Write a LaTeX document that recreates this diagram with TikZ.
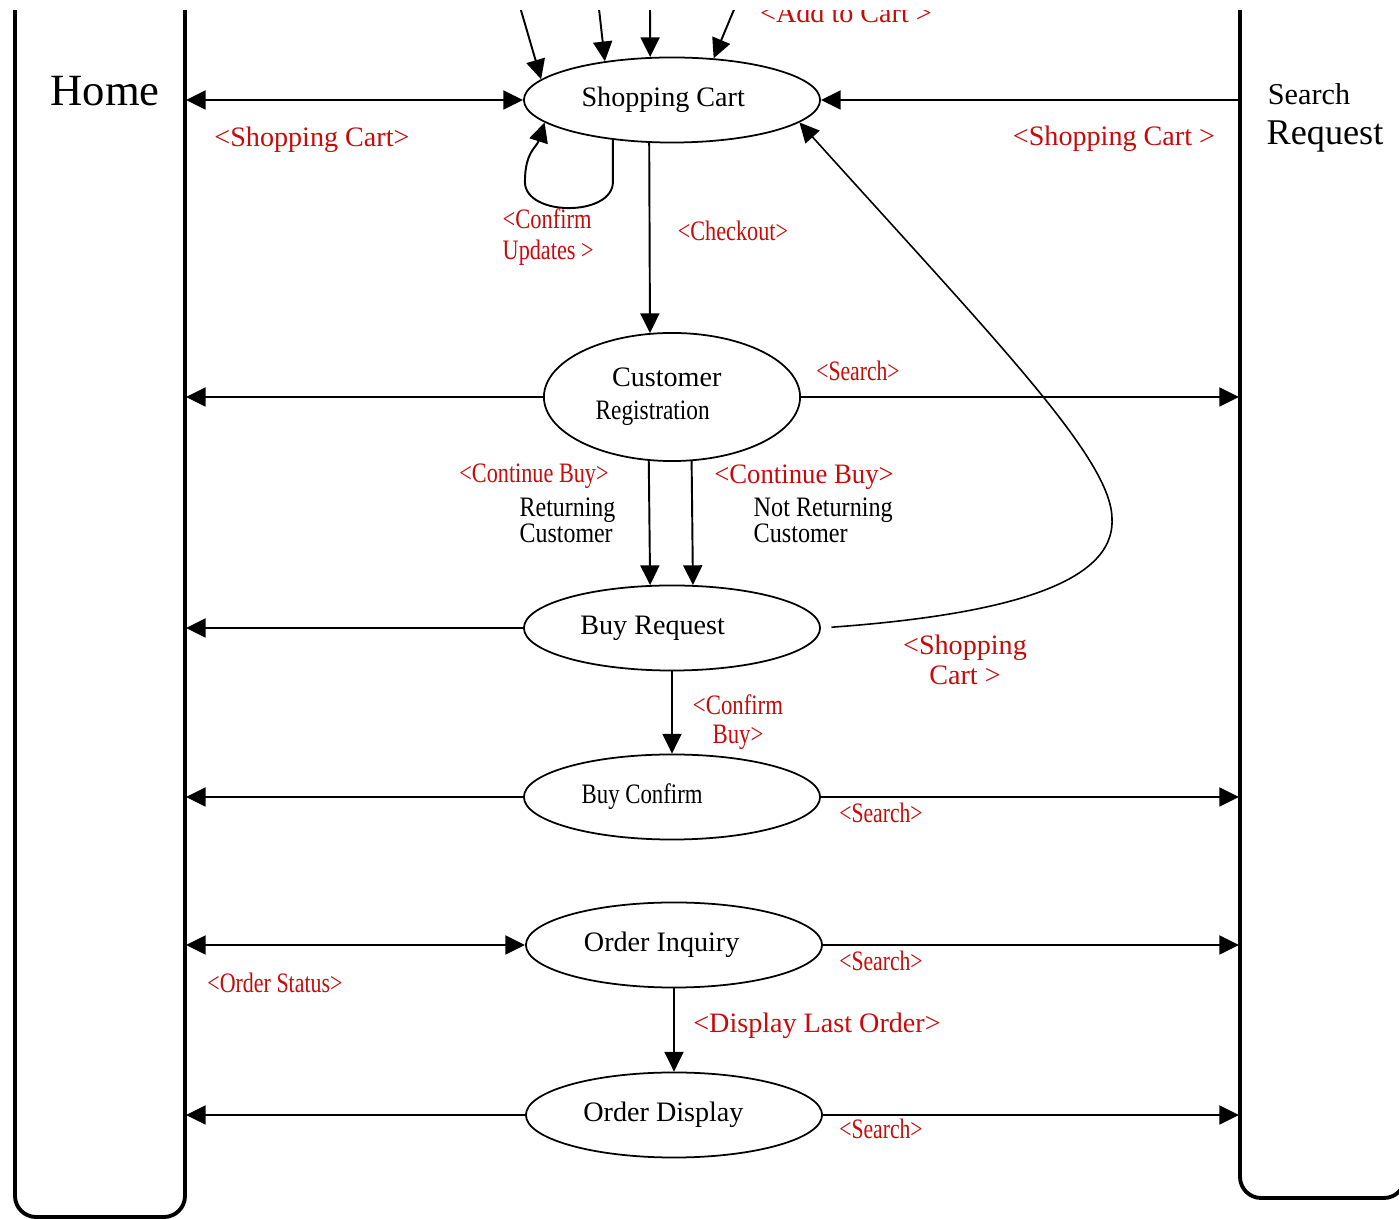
\documentclass[tikz,border=0pt]{standalone}
\usepackage{fontspec}
\setmainfont{Liberation Serif}
\usepackage{graphicx}
\usetikzlibrary{arrows.meta,shapes.geometric,calc}
\definecolor{lblred}{RGB}{200,10,10}
\newcommand{\cnd}[2][0.8]{\scalebox{#1}[1]{#2}}
\begin{document}
\begin{tikzpicture}[x=0.01cm,y=-0.01cm,
  bar/.style={line width=1.1pt, line join=round},
  conn/.style={line width=0.55pt},
  tipshape/.style={},
  arr/.style={conn,-{Triangle[length=5.6pt,width=5.4pt]}},
  darr/.style={conn,{Triangle[length=5.6pt,width=5.4pt]}-{Triangle[length=5.6pt,width=5.4pt]}},
  proc/.style={draw, ellipse, line width=0.5pt, inner sep=0pt, minimum width=2.96cm, minimum height=0.85cm, font=\fontsize{8}{9.5}\selectfont},
  lbl/.style={text=lblred, inner sep=0pt, font=\fontsize{8}{8.5}\selectfont},
  note/.style={inner sep=0pt, font=\fontsize{8}{7.4}\selectfont},
]
\useasboundingbox (0,0) rectangle (1399,1219);
\clip (0,11) rectangle (1399,1219);

% side bars
\draw[bar, rounded corners=6pt] (15,0) -- (15,1217) -- (185,1217) -- (185,0);
\draw[bar, rounded corners=6pt] (1240,0) -- (1240,1198) -- (1405,1198) -- (1405,0);
\coordinate (homeR) at (186,0);
\coordinate (srchL) at (1239,0);

\node[inner sep=0pt, font=\fontsize{12.7}{14}\selectfont] (home) at (105,91) {Home};
\node[inner sep=0pt, font=\fontsize{8.6}{10}\selectfont] (srch) at (1309,94) {Search};
\node[inner sep=0pt, font=\fontsize{10.3}{12}\selectfont] (req) at (1325,137) {Request};

% process ellipses
\node[proc] (sc) at (672,100) {Shopping Cart\kern5pt};
\node[proc, minimum width=2.56cm, minimum height=1.28cm, align=center, font=\fontsize{8}{9.4}\selectfont] (cr) at (672,397)
  {\hbox{Customer\kern3pt}\\\hbox{\cnd[0.83]{Registration}\kern11pt}};
\node[proc] (br) at (672,628) {Buy Request\kern11pt};
\node[proc] (bc) at (672,797) {\cnd[0.81]{Buy Confirm}\kern17pt};
\node[proc] (oi) at (674,945) {Order Inquiry\kern7pt};
\node[proc] (od) at (674,1115) {Order Display\kern6pt};

% incoming arrows at the top of Shopping Cart
\coordinate (in1) at (518,0);
\coordinate (in2) at (598,0);
\coordinate (in3) at (650,0);
\coordinate (in4) at (738,0);
\draw[arr] (in1) -- (sc.171);
\draw[arr] (in2) -- (sc.150);
\draw[arr] (in3) -- (sc.117.6);
\draw[arr] (in4) -- (sc.45);
\node[lbl, anchor=base] (addcart) at (846,23) {<Add to Cart >};

% Shopping Cart connectors
\draw[darr] (sc.west) -- (sc.west -| homeR);
\draw[arr] (sc.east -| srchL) -- (sc.east);
\node[lbl] (l1) at (312,140) {<Shopping Cart>};
\node[lbl] (l2) at (1114,139) {<Shopping Cart >};

% self loop
\draw[arr] (sc.214) -- ++(0,42) .. controls +(0,35) and +(0,35) .. ++(-88,0)
  .. controls +(0,-30) and +(-8,25) .. (sc.190);
\node[lbl, anchor=west, align=left, font=\fontsize{8}{8.8}\selectfont] (l3) at (502,237)
  {\cnd[0.8]{<Confirm}\\\cnd[0.79]{Updates >}};

% checkout
\draw[arr] (sc.242.4) -- (cr.109.2);
\node[lbl] (l4) at (733,231) {\cnd[0.79]{<Checkout>}};

% Customer Registration
\draw[arr] (cr.west) -- (cr.west -| homeR);
\draw[arr] (cr.east) -- (cr.east -| srchL);
\node[lbl] (l5) at (858,371) {\cnd[0.77]{<Search>}};
\draw[arr] (cr.250.8) -- (br.117.6);
\draw[arr] (cr.287.6) -- (br.64.6);
\node[lbl] (l6) at (534,476) {\cnd[0.79]{<Continue Buy>}};
\node[note, anchor=west, align=left] (n1) at (519,520)
  {\cnd[0.85]{Returning}\\\cnd[0.85]{Customer}};
\node[lbl] (l7) at (804,477) {\cnd[0.95]{<Continue Buy>}};
\node[note, anchor=west, align=left] (n2) at (753,520)
  {\cnd[0.86]{Not Returning}\\\cnd[0.86]{Customer}};

% Buy Request
\draw[arr] (br.west) -- (br.west -| homeR);
\draw[conn, line width=0.45pt, -{Triangle[length=5.6pt,width=5.4pt]}, shorten <=3pt]
  (br.east) .. controls (1000,615) and (1115,585) .. (1112,519)
  .. controls (1112,460) and (1000,345) .. (sc.350);
\node[lbl, align=center] (l8) at (965,660) {<Shopping\\Cart >};
\draw[arr] (br.south) -- (bc.north);
\node[lbl, align=center, font=\fontsize{8}{8.3}\selectfont] (l9) at (738,722)
  {\cnd[0.81]{<Confirm}\\\cnd[0.81]{Buy>}};

% Buy Confirm
\draw[arr] (bc.west) -- (bc.west -| homeR);
\draw[arr] (bc.east) -- (bc.east -| srchL);
\node[lbl] (l10) at (881,813) {\cnd[0.77]{<Search>}};

% Order Inquiry
\draw[darr] (oi.west) -- (oi.west -| homeR);
\draw[arr] (oi.east) -- (oi.east -| srchL);
\node[lbl] (l11) at (275,983) {\cnd[0.78]{<Order Status>}};
\node[lbl] (l12) at (881,961) {\cnd[0.77]{<Search>}};
\draw[arr] (oi.south) -- (od.north);
\node[lbl] (l13) at (817,1026) {<Display Last Order>};

% Order Display
\draw[arr] (od.west) -- (od.west -| homeR);
\draw[arr] (od.east) -- (od.east -| srchL);
\node[lbl] (l14) at (881,1129) {\cnd[0.77]{<Search>}};
\end{tikzpicture}
\end{document}
